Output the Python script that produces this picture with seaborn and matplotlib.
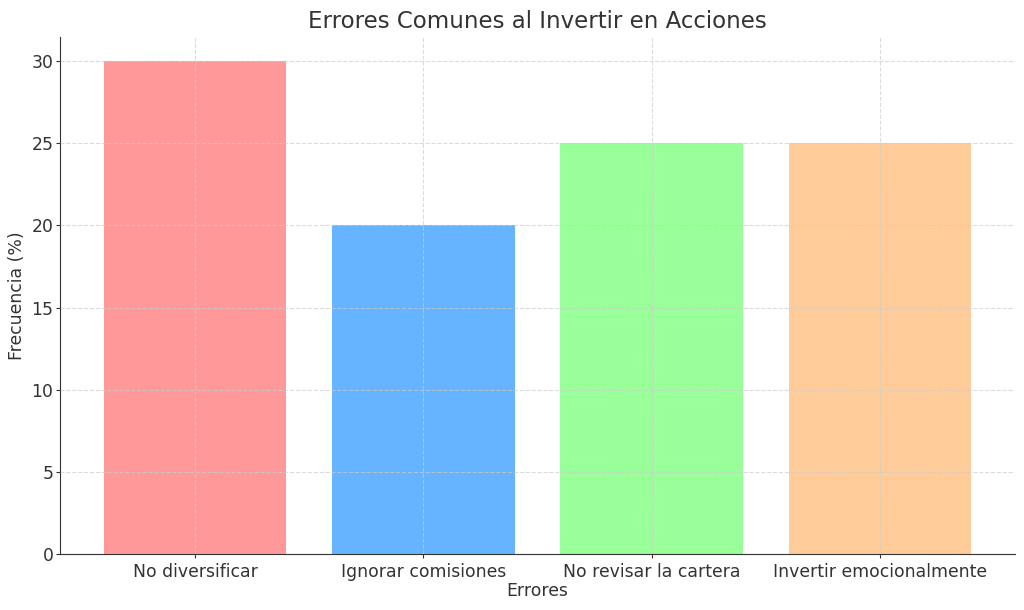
import matplotlib
matplotlib.use("Agg")
import matplotlib.pyplot as plt
import seaborn as sns
import pandas as pd

categories = ["No diversificar", "Ignorar comisiones", "No revisar la cartera", "Invertir emocionalmente"]
values = [30, 20, 25, 25]
colors = ["#ff9999", "#66b3ff", "#99ff99", "#ffcc99"]

df = pd.DataFrame({"Errores": categories, "Frecuencia": values})

plt.rcParams['font.family'] = ['DejaVu Sans']
fig, ax = plt.subplots(figsize=(10.24, 6.1), dpi=100)
sns.barplot(data=df, x="Errores", y="Frecuencia", hue="Errores", palette=colors,
            legend=False, ax=ax, width=0.8, saturation=1)
for p in ax.patches:
    p.set_zorder(1)
ax.set_axisbelow(False)
ax.grid(True, linestyle="--", color="#cccccc", linewidth=0.8, alpha=0.7, zorder=2)
ax.set_title("Errores Comunes al Invertir en Acciones", fontsize=16.5, color="#333333")
ax.set_xlabel("Errores", fontsize=12.4, color="#333333", labelpad=1)
ax.set_ylabel("Frecuencia (%)", fontsize=12.4, color="#333333", labelpad=4)
ax.tick_params(labelsize=12.4, colors="#333333", length=3)
ax.tick_params(axis="y", pad=2)
ax.set_ylim(0, 31.5)
ax.set_xlim(-0.59, 3.59)
for s in ["top", "right"]:
    ax.spines[s].set_visible(False)
ax.spines["left"].set_color("#333333")
ax.spines["bottom"].set_color("#333333")
fig.subplots_adjust(left=0.059, right=0.991, top=0.94, bottom=0.092)
fig.savefig("out.png", dpi=100)
